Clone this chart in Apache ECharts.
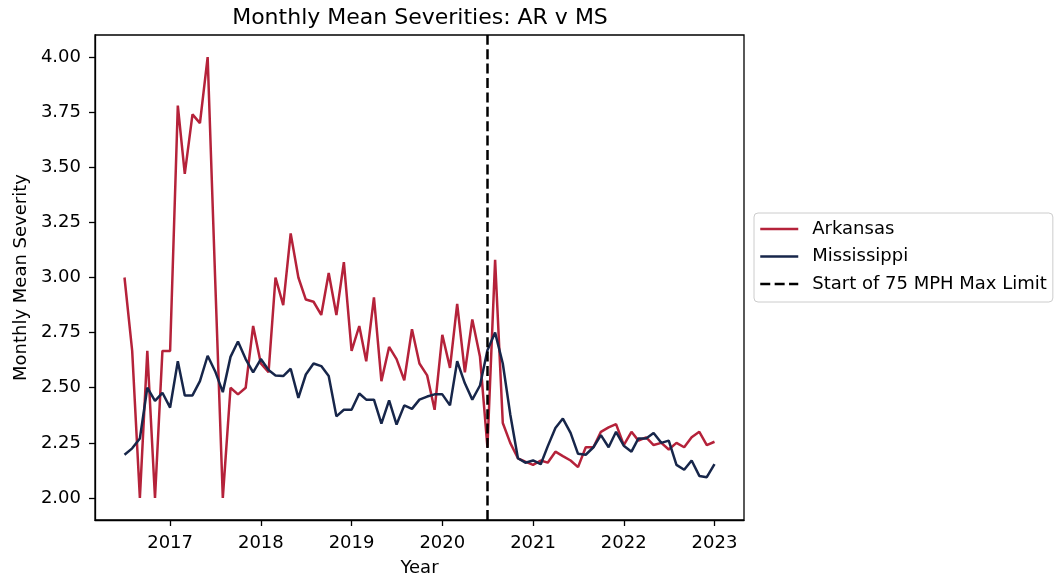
<!DOCTYPE html>
<html>
<head>
<meta charset="utf-8">
<script src="https://cdn.jsdelivr.net/npm/echarts@6/dist/echarts.min.js"></script>
<style>
  html, body { margin: 0; padding: 0; background: #ffffff; }
  #chart { width: 1056px; height: 578px; }
</style>
</head>
<body>
<div id="chart"></div>
<script>
// Months covered by the monthly averages (first of each month)
const months = [
  '2016-07','2016-08','2016-09','2016-10','2016-11','2016-12',
  '2017-01','2017-02','2017-03','2017-04','2017-05','2017-06','2017-07','2017-08','2017-09','2017-10','2017-11','2017-12',
  '2018-01','2018-02','2018-03','2018-04','2018-05','2018-06','2018-07','2018-08','2018-09','2018-10','2018-11','2018-12',
  '2019-01','2019-02','2019-03','2019-04','2019-05','2019-06','2019-07','2019-08','2019-09','2019-10','2019-11','2019-12',
  '2020-01','2020-02','2020-03','2020-04','2020-05','2020-06','2020-07','2020-08','2020-09','2020-10','2020-11','2020-12',
  '2021-01','2021-02','2021-03','2021-04','2021-05','2021-06','2021-07','2021-08','2021-09','2021-10','2021-11','2021-12',
  '2022-01','2022-02','2022-03','2022-04','2022-05','2022-06','2022-07','2022-08','2022-09','2022-10','2022-11','2022-12',
  '2023-01'
];

// Monthly mean crash severity, Arkansas
const arkansas = [
  3.00, 2.667, 2.00, 2.667, 2.00, 2.667,
  2.667, 3.78, 3.47, 3.74, 3.70, 4.00, 3.00, 2.00, 2.50, 2.47, 2.50, 2.78,
  2.61, 2.57, 3.00, 2.875, 3.20, 3.00, 2.90, 2.89, 2.83, 3.02, 2.83, 3.07,
  2.667, 2.78, 2.62, 2.91, 2.53, 2.685, 2.63, 2.534, 2.765, 2.61, 2.556, 2.40,
  2.74, 2.59, 2.88, 2.57, 2.81, 2.64, 2.23, 3.08, 2.34, 2.25, 2.18, 2.165,
  2.15, 2.17, 2.16, 2.21, 2.19, 2.17, 2.14, 2.23, 2.23, 2.30, 2.32, 2.335,
  2.24, 2.30, 2.26, 2.275, 2.24, 2.25, 2.22, 2.25, 2.23, 2.275, 2.30, 2.24,
  2.255
];

// Monthly mean crash severity, Mississippi
const mississippi = [
  2.196, 2.225, 2.27, 2.50, 2.44, 2.477,
  2.41, 2.62, 2.465, 2.465, 2.53, 2.645, 2.575, 2.48, 2.64, 2.71, 2.63, 2.57,
  2.63, 2.58, 2.556, 2.553, 2.586, 2.454, 2.56, 2.61, 2.598, 2.553, 2.37, 2.40,
  2.40, 2.474, 2.446, 2.446, 2.337, 2.443, 2.333, 2.42, 2.404, 2.446, 2.46, 2.47,
  2.47, 2.42, 2.62, 2.52, 2.446, 2.51, 2.67, 2.75, 2.61, 2.38, 2.18, 2.16,
  2.17, 2.153, 2.234, 2.317, 2.36, 2.295, 2.20, 2.196, 2.23, 2.285, 2.23, 2.30,
  2.237, 2.21, 2.27, 2.27, 2.295, 2.25, 2.26, 2.15, 2.128, 2.17, 2.10, 2.094,
  2.153
];

// Month the 75 MPH maximum speed limit took effect
const limitStart = '2020-07';

// Axis tick labels
const yearTicks = [2017, 2018, 2019, 2020, 2021, 2022, 2023];
const severityTicks = [2.00, 2.25, 2.50, 2.75, 3.00, 3.25, 3.50, 3.75, 4.00];

// 'YYYY-MM' -> fractional year (days elapsed in the year)
function toYear(s) {
  const [y, m] = s.split('-').map(Number);
  const start = Date.UTC(y, 0, 1);
  const next = Date.UTC(y + 1, 0, 1);
  return y + (Date.UTC(y, m - 1, 1) - start) / (next - start);
}

const xs = months.map(toYear);
const arPoints = xs.map((x, i) => [x, arkansas[i]]);
const msPoints = xs.map((x, i) => [x, mississippi[i]]);

// 5% padding on both axes around the data extent
const xMinData = Math.min(...xs), xMaxData = Math.max(...xs);
const xPad = (xMaxData - xMinData) * 0.05;
const allVals = arkansas.concat(mississippi);
const yMinData = Math.min(...allVals), yMaxData = Math.max(...allVals);
const yPad = (yMaxData - yMinData) * 0.05;

const FONT = 'DejaVu Sans';
const chart = echarts.init(document.getElementById('chart'), null, { renderer: 'canvas' });

chart.setOption({
  animation: false,
  backgroundColor: '#ffffff',
  title: {
    text: 'Monthly Mean Severities: AR v MS',
    left: 420,
    top: 7,
    textAlign: 'center',
    padding: 0,
    textStyle: { fontFamily: FONT, fontSize: 22, fontWeight: 'normal', color: '#000' }
  },
  grid: {
    left: 95, right: 312, top: 35, bottom: 58,
    containLabel: false,
    outerBoundsMode: 'none',
    show: true, borderColor: '#000', borderWidth: 1.3, backgroundColor: 'transparent'
  },
  legend: {
    orient: 'vertical',
    left: 754,
    top: 213,
    padding: [7, 6, 9, 5],
    itemWidth: 38,
    itemHeight: 14,
    itemGap: 9.5,
    borderColor: '#cccccc',
    borderWidth: 1,
    borderRadius: 4,
    backgroundColor: 'rgba(255,255,255,0.8)',
    // line-only legend keys (no marker)
    itemStyle: { opacity: 0 },
    lineStyle: { width: 2.5 },
    data: ['Arkansas', 'Mississippi', 'Start of 75 MPH Max Limit'],
    textStyle: { fontFamily: FONT, fontSize: 18, color: '#000', lineHeight: 18, padding: [0, 0, 0, 9] }
  },
  xAxis: {
    type: 'value',
    min: xMinData - xPad,
    max: xMaxData + xPad,
    name: 'Year',
    nameLocation: 'middle',
    nameGap: 39,
    nameTextStyle: { fontFamily: FONT, fontSize: 18, color: '#000' },
    axisLine: { show: true, onZero: false, lineStyle: { color: '#000', width: 1.3 } },
    axisTick: { show: true, length: 6, customValues: yearTicks, lineStyle: { color: '#000', width: 1.3 } },
    axisLabel: {
      customValues: yearTicks,
      margin: 14,
      fontFamily: FONT, fontSize: 18, color: '#000',
      formatter: v => String(Math.round(v))
    },
    splitLine: { show: false }
  },
  yAxis: {
    type: 'value',
    min: yMinData - yPad,
    max: yMaxData + yPad,
    name: 'Monthly Mean Severity',
    nameLocation: 'middle',
    nameGap: 58,
    nameTextStyle: { fontFamily: FONT, fontSize: 18, color: '#000' },
    axisLine: { show: true, onZero: false, lineStyle: { color: '#000', width: 1.3 } },
    axisTick: { show: true, length: 6, customValues: severityTicks, lineStyle: { color: '#000', width: 1.3 } },
    axisLabel: {
      customValues: severityTicks,
      margin: 14,
      fontFamily: FONT, fontSize: 18, color: '#000',
      formatter: v => v.toFixed(2)
    },
    splitLine: { show: false }
  },
  series: [
    {
      name: 'Arkansas',
      type: 'line',
      data: arPoints,
      symbol: 'none',
      color: '#b5223a',
      lineStyle: { color: '#b5223a', width: 2.5 },
      z: 2
    },
    {
      name: 'Mississippi',
      type: 'line',
      data: msPoints,
      symbol: 'none',
      color: '#17264a',
      lineStyle: { color: '#17264a', width: 2.5 },
      z: 3
    },
    {
      name: 'Start of 75 MPH Max Limit',
      type: 'line',
      data: [],
      symbol: 'none',
      color: '#000',
      lineStyle: { color: '#000', width: 2.5, type: [10, 4.4] },
      z: 4,
      markLine: {
        silent: true,
        symbol: ['none', 'none'],
        label: { show: false },
        lineStyle: { color: '#000', width: 2.5, type: [10, 4.4] },
        data: [{ xAxis: toYear(limitStart) }]
      }
    }
  ]
});
</script>
</body>
</html>
